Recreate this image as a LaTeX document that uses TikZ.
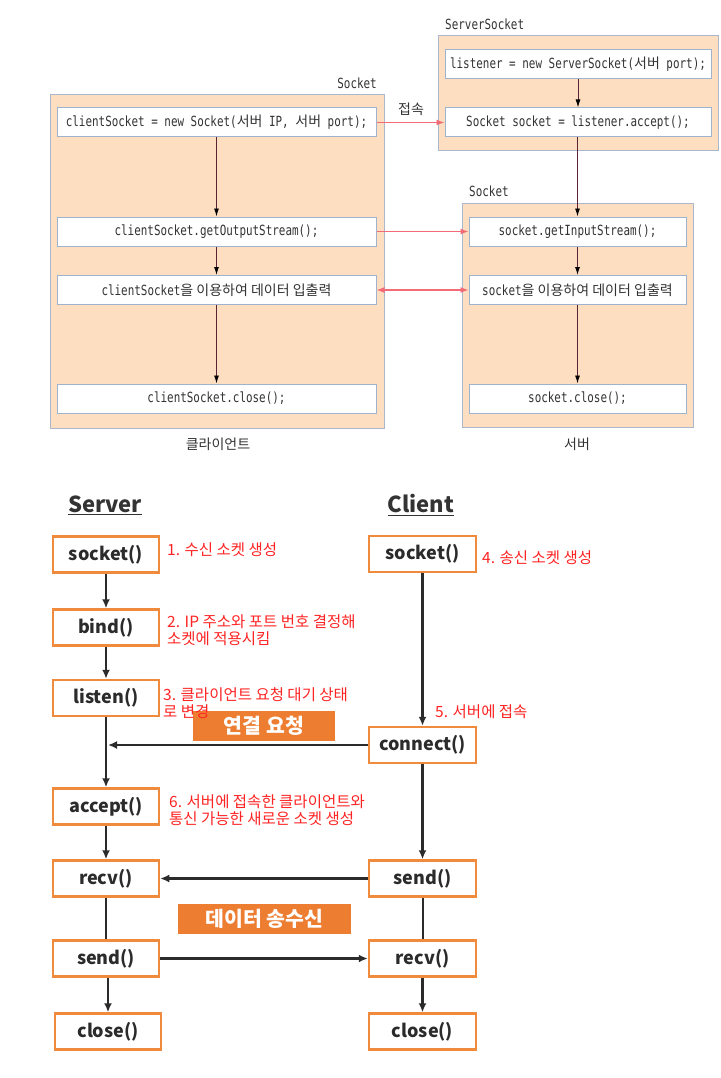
\documentclass[tikz,border=0pt]{standalone}
\usepackage{fontspec}
\setmonofont[FakeStretch=0.78]{DejaVu Sans Mono}
\newfontfamily\kr{Noto Sans CJK KR}
\usetikzlibrary{arrows.meta}
\definecolor{peach}{HTML}{FDDEC0}
\definecolor{panelborder}{HTML}{A9B8CC}
\definecolor{boxborder}{HTML}{9FB3CF}
\definecolor{codetext}{HTML}{333333}
\definecolor{maroonline}{HTML}{5B2333}
\definecolor{redline}{HTML}{F26B77}
\definecolor{orangeb}{HTML}{F08A3C}
\definecolor{orangefill}{HTML}{ED7D31}
\definecolor{annred}{HTML}{FF2424}
\definecolor{darkline}{HTML}{2B2B2B}
\newcommand\K[1]{{\kr #1}}
\newcommand\codefont{\fontsize{14}{16}\selectfont\ttfamily}
\newcommand\boxfont{\kr\bfseries\fontsize{18}{20}\selectfont}
\newcommand\annfont{\kr\fontsize{15.5}{17}\selectfont}
\tikzset{
  panel/.style={draw=panelborder, fill=peach, line width=1pt},
  codebox/.style={draw=boxborder, fill=white, line width=1pt, minimum height=29, inner sep=0pt, font=\codefont, text=codetext},
  lab/.style={font=\codefont, text=codetext, inner sep=1pt},
  klab/.style={font=\kr\fontsize{14}{16}\selectfont, text=codetext, inner sep=1pt},
  darr/.style={draw=maroonline, line width=0.9pt, -{Latex[length=8pt,width=5pt,color=black]}},
  redarr/.style={draw=redline, line width=1.2pt, -{Latex[length=8pt,width=6pt]}},
  redboth/.style={draw=redline, line width=1.2pt, {Latex[length=8pt,width=6pt]}-{Latex[length=8pt,width=6pt]}},
  fbox/.style={draw=orangeb, line width=2.5pt, fill=white, minimum width=106, minimum height=36, inner sep=0pt, font=\boxfont, text=darkline},
  obox/.style={fill=orangefill, minimum height=30, inner sep=0pt, font=\kr\bfseries\fontsize{20.5}{22}\selectfont, text=white},
  ann/.style={anchor=west, align=left, font=\annfont, text=annred, inner sep=0pt},
  title/.style={font=\kr\bfseries\fontsize{22}{24}\selectfont, text=codetext},
  barr/.style={draw=darkline, line width=2.2pt, -{Latex[length=9pt,width=8pt]}},
  bline/.style={draw=darkline, line width=2pt}
}
\begin{document}
\begin{tikzpicture}[x=1pt,y=-1pt]
\useasboundingbox[fill=white] (0,0) rectangle (720,1078);

% ---------- top diagram ----------
\draw[panel] (50,95) rectangle (384,428);
\draw[panel] (438,36) rectangle (718,151);
\draw[panel] (462,203) rectangle (693,427);

\node[lab, anchor=west] (lss) at (444,24) {ServerSocket};
\node[lab, anchor=east] (lcs) at (378,83) {Socket};
\node[lab, anchor=west] (lsv) at (468,191) {Socket};
\node[klab] (lcon) at (411,109) {접속};
\node[klab] (lcli) at (218,444) {클라이언트};
\node[klab] (lsrv) at (577,444) {서버};

\node[codebox, minimum width=319] (c1) at (216.5,122.5) {clientSocket = new Socket(\K{서버} IP, \K{서버} port);};
\node[codebox, minimum width=319] (c2) at (216.5,231.5) {clientSocket.getOutputStream();};
\node[codebox, minimum width=319] (c3) at (216.5,290) {clientSocket\K{을 이용하여 데이터 입출력}};
\node[codebox, minimum width=319] (c4) at (216.5,398.5) {clientSocket.close();};

\node[codebox, minimum width=266] (s1) at (578,64) {listener = new ServerSocket(\K{서버} port);};
\node[codebox, minimum width=266] (s2) at (578,122.5) {Socket socket = listener.accept();};
\node[codebox, minimum width=217] (s3) at (577.5,231.5) {socket.getInputStream();};
\node[codebox, minimum width=217] (s4) at (577.5,290) {socket\K{을 이용하여 데이터 입출력}};
\node[codebox, minimum width=217] (s5) at (577.5,398.5) {socket.close();};

\draw[darr] (c1) -- (c2);
\draw[darr] (c2) -- (c3);
\draw[darr] (c3) -- (c4);
\draw[darr] (s1.south -| s2.north) -- (s2.north);
\draw[darr] (s2.south -| s3.north) -- (s3.north);
\draw[darr] (s3) -- (s4);
\draw[darr] (s4) -- (s5);

\draw[redarr] (c1.east) -- (c1.east -| s2.west);
\draw[redarr] (c2.east) -- (s3.west);
\draw[redboth] (c3.east) -- (s4.west);

% ---------- bottom diagram ----------
\node[title] (tsrv) at (105,505) {\underline{Server}};
\node[title] (tcli) at (421,505) {\underline{Client}};

\node[fbox] (bsock) at (106,554.5) {socket()};
\node[fbox] (bbind) at (106,627.5) {bind()};
\node[fbox] (blist) at (106,698) {listen()};
\node[fbox] (bacc)  at (106,806.5) {accept()};
\node[fbox] (brecv) at (106,878.5) {recv()};
\node[fbox] (bsend) at (106,958.5) {send()};
\node[fbox] (bclose) at (108,1031.5) {close()};

\node[fbox, minimum width=107] (csock) at (422.5,554) {socket()};
\node[fbox, minimum width=107] (cconn) at (422.5,745) {connect()};
\node[fbox, minimum width=107] (csend) at (422.5,878.5) {send()};
\node[fbox, minimum width=107] (crecv) at (422.5,958.5) {recv()};
\node[fbox, minimum width=107] (cclose) at (422.5,1031.5) {close()};

\node[obox, minimum width=142] (oreq) at (264,726) {연결 요청};
\node[obox, minimum width=173] (odata) at (264.5,919) {데이터 송수신};

\node[ann] (a1) at (167,550) {1. 수신 소켓 생성};
\node[ann] (a2) at (167,630) {2. IP 주소와 포트 번호 결정해\\소켓에 적용시킴};
\node[ann] (a3) at (163,703.5) {3. 클라이언트 요청 대기 상태\\로 변경};
\node[ann] (a4) at (482,558) {4. 송신 소켓 생성};
\node[ann] (a5) at (435,712) {5. 서버에 접속};
\node[ann] (a6) at (169,810) {6. 서버에 접속한 클라이언트와\\통신 가능한 새로운 소켓 생성};

\coordinate (hit) at (108,745);
\draw[barr] (bsock) -- (bbind);
\draw[barr] (bbind) -- (blist);
\draw[barr] (blist) -- (bacc);
\draw[barr] (bacc) -- (brecv);
\draw[bline] (brecv) -- (bsend);
\draw[barr] (bsend.south -| bclose.north) -- (bclose.north);

\draw[barr] (csock) -- (cconn);
\draw[barr] (cconn) -- (csend);
\draw[bline] (csend) -- (crecv);
\draw[barr] (crecv) -- (cclose);

\draw[barr] (cconn.west) -- (hit);
\draw[barr] (csend.west) -- (brecv.east);
\draw[barr] (bsend.east) -- (crecv.west);
\end{tikzpicture}
\end{document}
